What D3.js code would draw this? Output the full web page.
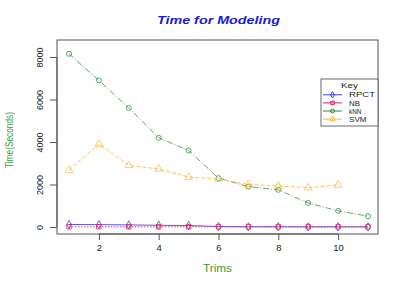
<!DOCTYPE html>
<html><head><meta charset="utf-8">
<script src="https://cdn.jsdelivr.net/npm/d3@7/dist/d3.min.js"></script>
<style>body{margin:0;background:#fff}svg{display:block}text{font-family:"Liberation Sans",Arial,sans-serif}</style>
</head><body>
<svg id="c" width="409" height="284"></svg>
<script>
const seriesNames = ["RPCT", "NB", "kNN", "SVM"];
const trims = [1, 2, 3, 4, 5, 6, 7, 8, 9, 10, 11];
const rpct = [120, 110, 100, 80, 70, 20, 10, 10, 5, 5, 5];
const nb = [10, 10, 10, 10, 10, 10, 10, 10, 10, 10, 10];
const knn = [8150, 6900, 5600, 4200, 3600, 2300, 1900, 1750, 1130, 760, 510];
const svm = [2680, 3900, 2900, 2730, 2350, 2250, 2000, 1930, 1850, 1980];
const xTicks = [2, 4, 6, 8, 10];
const yTicks = [0, 2000, 4000, 6000, 8000];
const colors = ["#3b3bdc", "#d8225e", "#2f8a3a", "#ffb836"];
const dashes = [null, "1.5,1.5", "6,2,1,2", "4,2"];
const symbols = [d3.symbolDiamond, d3.symbolSquare, d3.symbolCircle, d3.symbolTriangle];

const svg = d3.select("#c");
const L = 57, R = 378, T = 40, B = 234;
const x = d3.scaleLinear().domain([1, 11]).range([69, 368]);
const y = d3.scaleLinear().domain([0, 8000]).range([227, 57]);

svg.append("text").attr("x", 157).attr("y", 24)
  .attr("font-size", 11).attr("font-weight", "bold").attr("font-style", "italic")
  .attr("textLength", 123).attr("lengthAdjust", "spacingAndGlyphs")
  .attr("fill", "#1a1ad8").text("Time for Modeling");

svg.append("rect").attr("x", L).attr("y", T).attr("width", R - L).attr("height", B - T)
  .attr("fill", "none").attr("stroke", "#555").attr("stroke-width", 1);

const xa = svg.append("g").attr("transform", `translate(0,${B})`)
  .call(d3.axisBottom(x).tickValues(xTicks).tickSize(6).tickPadding(4).tickFormat(d3.format("d")));
xa.select(".domain").attr("d", `M${x(2)},0H${x(10)}`).attr("stroke", "#555");
xa.selectAll(".tick line").attr("stroke", "#555");
xa.selectAll("text").attr("font-size", 9.5).attr("fill", "#222").attr("font-family", "Liberation Sans,Arial,sans-serif");

const ya = svg.append("g").attr("transform", `translate(${L},0)`)
  .call(d3.axisLeft(y).tickValues(yTicks).tickSize(7).tickFormat(d3.format("d")));
ya.select(".domain").attr("d", `M0,${y(0)}V${y(8000)}`).attr("stroke", "#555");
ya.selectAll(".tick line").attr("stroke", "#555");
ya.selectAll(".tick text").attr("x", null).attr("dy", null)
  .attr("transform", "translate(-17.5,0) rotate(-90)").attr("text-anchor", "middle")
  .attr("dy", "0.35em").attr("font-size", 9).attr("fill", "#222")
  .attr("font-family", "Liberation Sans,Arial,sans-serif");

svg.append("text").attr("transform", "translate(13,168) rotate(-90)")
  .attr("font-size", 10).attr("textLength", 56).attr("lengthAdjust", "spacingAndGlyphs")
  .attr("fill", "#3a9a3a").text("Time(Seconds)");
svg.append("text").attr("x", 203).attr("y", 272)
  .attr("font-size", 10).attr("textLength", 29).attr("lengthAdjust", "spacingAndGlyphs")
  .attr("fill", "#3a9a3a").text("Trims");

const allSeries = [rpct, nb, knn, svm];
const line = d3.line().x((d, i) => x(trims[i])).y(d => y(d));
const order = [2, 3, 0, 1];
order.forEach(k => {
  const vals = allSeries[k];
  svg.append("path").datum(vals).attr("d", line).attr("fill", "none")
    .attr("stroke", colors[k]).attr("stroke-width", 1).attr("stroke-dasharray", dashes[k])
    .attr("opacity", k === 2 ? 0.75 : 0.85);
  svg.selectAll(null).data(vals).enter().append("path")
    .attr("d", d3.symbol().type(symbols[k]).size(k === 3 ? 26 : 20))
    .attr("transform", (d, i) => `translate(${x(trims[i])},${y(d)})`)
    .attr("fill", "none").attr("stroke", colors[k]).attr("stroke-width", 1).attr("opacity", 0.75);
});

// legend
const legendWidths = [26, 11, 12.5, 17.5];
const lg = svg.append("g");
lg.append("rect").attr("x", 321).attr("y", 79).attr("width", 57).attr("height", 47)
  .attr("fill", "#fff").attr("stroke", "#444").attr("stroke-width", 0.8);
lg.append("text").attr("x", 341).attr("y", 87.5)
  .attr("font-size", 7).attr("textLength", 17).attr("lengthAdjust", "spacingAndGlyphs")
  .attr("fill", "#222").text("Key");
seriesNames.forEach((n, k) => {
  const yy = 94.8 + k * 8.1;
  lg.append("line").attr("x1", 323).attr("x2", 342).attr("y1", yy).attr("y2", yy)
    .attr("stroke", colors[k]).attr("stroke-width", 1);
  lg.append("path").attr("d", d3.symbol().type(symbols[k]).size(12))
    .attr("transform", `translate(332.5,${yy})`).attr("fill", "none").attr("stroke", colors[k]);
  lg.append("text").attr("x", 349).attr("y", yy + 2.6).attr("font-size", 7)
    .attr("textLength", legendWidths[k]).attr("lengthAdjust", "spacingAndGlyphs")
    .attr("fill", "#222").text(n);
});
</script>
</body></html>
